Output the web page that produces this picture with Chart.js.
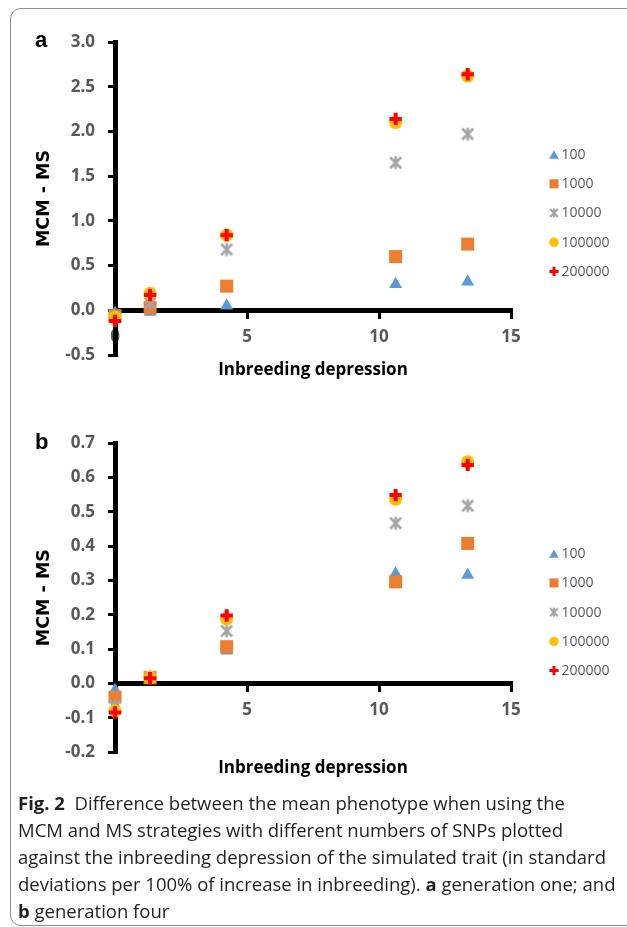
<!DOCTYPE html>
<html><head><meta charset="utf-8">
<script src="https://cdn.jsdelivr.net/npm/chart.js@4.4.1/dist/chart.umd.min.js"></script>
<style>
html,body{margin:0;padding:0;background:#fff;}
body{width:627px;height:927px;position:relative;overflow:hidden;font-family:'Open Sans',sans-serif;}
#frame{position:absolute;left:10px;top:8px;width:640px;height:918px;border:1px solid #8c8c8c;border-radius:11px;box-sizing:border-box;}
canvas{position:absolute;left:0;}
#cA{top:0px;}
#cB{top:400px;}
.letter{position:absolute;font-family:'Liberation Sans',Arial,sans-serif;font-weight:bold;font-size:22px;color:#000;line-height:22px;}
#caption{position:absolute;left:18px;top:789px;font-size:18.5px;line-height:27px;color:#231f20;white-space:nowrap;}
</style></head><body>
<div id="frame"></div>
<canvas id="cA" width="627" height="395"></canvas>
<canvas id="cB" width="627" height="392"></canvas>
<div class="letter" style="left:35px;top:29px;">a</div>
<div class="letter" style="left:35px;top:431px;">b</div>
<div id="caption"><b>Fig. 2</b>&nbsp; Difference between the mean phenotype when using the<br>MCM and MS strategies with different numbers of SNPs plotted<br>against the inbreeding depression of the simulated trait (in standard<br>deviations per 100% of increase in inbreeding). <b>a</b> generation one; and<br><b>b</b> generation four</div>
<script>
// ---- data ----
const inbreedingDepression = [0, 1.33, 4.23, 10.63, 13.36];
const snpLabels = ['100', '1000', '10000', '100000', '200000'];

// generation one (panel a): MCM - MS
const genOneSnp100    = [-0.03, -0.02, 0.05, 0.29, 0.32];
const genOneSnp1000   = [-0.06, 0.03, 0.27, 0.60, 0.74];
const genOneSnp10000  = [-0.07, 0.08, 0.68, 1.65, 1.97];
const genOneSnp100000 = [-0.08, 0.19, 0.84, 2.10, 2.62];
const genOneSnp200000 = [-0.12, 0.17, 0.84, 2.14, 2.64];

// generation four (panel b): MCM - MS
const genFourSnp100    = [-0.02, 0.01, 0.095, 0.32, 0.316];
const genFourSnp1000   = [-0.04, 0.016, 0.107, 0.296, 0.408];
const genFourSnp10000  = [-0.065, 0.02, 0.153, 0.467, 0.518];
const genFourSnp100000 = [-0.08, 0.018, 0.188, 0.537, 0.646];
const genFourSnp200000 = [-0.085, 0.015, 0.198, 0.549, 0.637];

const xTickValues = [0, 5, 10, 15];
const yTicksGenOne = [-0.5, 0, 0.5, 1.0, 1.5, 2.0, 2.5, 3.0];
const yTicksGenFour = [-0.2, -0.1, 0, 0.1, 0.2, 0.3, 0.4, 0.5, 0.6, 0.7];

const xTitle = 'Inbreeding depression';
const yTitle = 'MCM - MS';

// ---- styles ----
function starImage(size, arm, lw, color) {
  const c = document.createElement('canvas');
  c.width = size; c.height = size;
  const g = c.getContext('2d');
  const m = size / 2;
  g.strokeStyle = color; g.lineWidth = lw; g.lineCap = 'butt';
  g.beginPath();
  g.moveTo(m - arm * 0.85, m - arm * 0.85); g.lineTo(m + arm * 0.85, m + arm * 0.85);
  g.moveTo(m + arm * 0.85, m - arm * 0.85); g.lineTo(m - arm * 0.85, m + arm * 0.85);
  g.moveTo(m, m - arm); g.lineTo(m, m + arm);
  g.stroke();
  return c;
}
const starBig = starImage(16, 6.5, 2.6, '#A5A5A5');
const starSmall = starImage(12, 4.6, 2.2, '#A5A5A5');

const seriesStyles = [
  {color: '#5B9BD5', pointStyle: 'triangle', radius: 7.5, border: 0, order: 5},
  {color: '#ED7D31', pointStyle: 'rect', radius: 9.2, border: 0, order: 4},
  {color: '#A5A5A5', pointStyle: starBig, radius: 7, border: 0, order: 3},
  {color: '#FFC000', pointStyle: 'circle', radius: 6.6, border: 0, order: 2},
  {color: '#FF0000', pointStyle: 'cross', radius: 6.2, border: 4, order: 1}
];
const legendStyles = [
  {style: 'triangle', r: 5.6, bw: 0},
  {style: 'rect', r: 6.4, bw: 0},
  {style: starSmall, r: 5, bw: 0},
  {style: 'circle', r: 4.7, bw: 0},
  {style: 'cross', r: 4.6, bw: 3}
];

function drawMarker(ctx, style, x, y, r, color, bw) {
  ctx.save();
  if (style instanceof HTMLCanvasElement) {
    ctx.drawImage(style, x - style.width / 2, y - style.height / 2);
    ctx.restore();
    return;
  }
  ctx.fillStyle = color; ctx.strokeStyle = color; ctx.lineWidth = bw;
  ctx.beginPath();
  if (style === 'triangle') {
    let a = 0;
    ctx.moveTo(x + Math.sin(a) * r, y - Math.cos(a) * r);
    a += 2 * Math.PI / 3; ctx.lineTo(x + Math.sin(a) * r, y - Math.cos(a) * r);
    a += 2 * Math.PI / 3; ctx.lineTo(x + Math.sin(a) * r, y - Math.cos(a) * r);
    ctx.closePath(); ctx.fill();
  } else if (style === 'rect') {
    const s = Math.SQRT1_2 * r;
    ctx.rect(x - s, y - s, 2 * s, 2 * s); ctx.fill();
  } else if (style === 'circle') {
    ctx.arc(x, y, r, 0, Math.PI * 2); ctx.fill();
  } else if (style === 'cross') {
    ctx.moveTo(x - r, y); ctx.lineTo(x + r, y);
    ctx.moveTo(x, y - r); ctx.lineTo(x, y + r);
    ctx.stroke();
  }
  ctx.restore();
}

const sideLegend = {
  id: 'sideLegend',
  afterDraw(chart) {
    const ctx = chart.ctx;
    const ca = chart.chartArea;
    const cy = (ca.top + ca.bottom) / 2 + 14.5;
    const step = 29.2;
    const n = chart.data.datasets.length;
    ctx.save();
    ctx.font = '14px "Open Sans", sans-serif';
    ctx.textBaseline = 'middle';
    ctx.textAlign = 'left';
    chart.data.datasets.forEach((ds, i) => {
      const y = cy + (i - (n - 1) / 2) * step;
      const mx = ca.right + 43;
      const ls = legendStyles[i];
      drawMarker(ctx, ls.style, mx, y + (ls.style === 'triangle' ? 1.3 : 0), ls.r, seriesStyles[i].color, ls.bw);
      ctx.fillStyle = '#595959';
      ctx.fillText(ds.label, mx + 7.5, y + 0.5);
    });
    ctx.restore();
  }
};

function buildDatasets(series) {
  return series.map((vals, i) => {
    const st = seriesStyles[i];
    return {
      label: snpLabels[i],
      data: inbreedingDepression.map((x, k) => ({x: x, y: vals[k]})),
      pointStyle: st.pointStyle,
      pointRadius: st.radius,
      pointHoverRadius: st.radius,
      pointBackgroundColor: st.color,
      pointBorderColor: st.color,
      pointBorderWidth: st.border,
      backgroundColor: st.color,
      borderColor: st.color,
      showLine: false,
      clip: false,
      order: st.order
    };
  });
}

function buildChart(canvasId, series, yTicks, yMin, yMax, pad, xScaleHeight) {
  const tickFont = {family: '"Open Sans", sans-serif', weight: 'bold', size: 17};
  const xTitleFont = {family: '"Open Sans", sans-serif', weight: 'bold', size: 17, lineHeight: 1.2};
  const yTitleFont = {family: '"DejaVu Sans", sans-serif', weight: 'bold', size: 17.5, lineHeight: 1.2};
  return new Chart(document.getElementById(canvasId), {
    type: 'scatter',
    data: {datasets: buildDatasets(series)},
    options: {
      responsive: false,
      animation: false,
      events: [],
      layout: {padding: pad},
      plugins: {legend: {display: false}, tooltip: {enabled: false}},
      scales: {
        x: {
          type: 'linear',
          min: 0, max: 15,
          position: {y: 0},
          afterBuildTicks: s => { s.ticks = xTickValues.map(v => ({value: v})); },
          afterFit: s => { s.height = xScaleHeight; },
          border: {display: true, color: '#000', width: 5},
          grid: {drawOnChartArea: false, drawTicks: true, tickLength: 6, color: '#000', lineWidth: 3},
          ticks: {font: tickFont, color: '#595959', padding: 11, maxRotation: 0, callback: v => String(v)},
          title: {display: true, text: xTitle, color: '#000', font: xTitleFont, padding: 0}
        },
        y: {
          type: 'linear',
          min: yMin, max: yMax,
          position: 'left',
          afterBuildTicks: s => { s.ticks = yTicks.map(v => ({value: v})); },
          afterFit: s => { s.width = 81; },
          border: {display: true, color: '#000', width: 5},
          grid: {drawOnChartArea: false, drawTicks: true, tickLength: 7, color: '#000', lineWidth: 3},
          ticks: {font: tickFont, color: '#595959', padding: 13, callback: v => Number(v).toFixed(1)},
          title: {display: true, text: yTitle, color: '#000', font: yTitleFont, padding: 0}
        }
      }
    },
    plugins: [sideLegend]
  });
}

buildChart('cA',
  [genOneSnp100, genOneSnp1000, genOneSnp10000, genOneSnp100000, genOneSnp200000],
  yTicksGenOne, -0.5, 3.0,
  {left: 34, right: 116, top: 42, bottom: 40}, 70.5);

buildChart('cB',
  [genFourSnp100, genFourSnp1000, genFourSnp10000, genFourSnp100000, genFourSnp200000],
  yTicksGenFour, -0.2, 0.7,
  {left: 34, right: 116, top: 43.3, bottom: 40}, 94.5);
</script>
</body></html>
